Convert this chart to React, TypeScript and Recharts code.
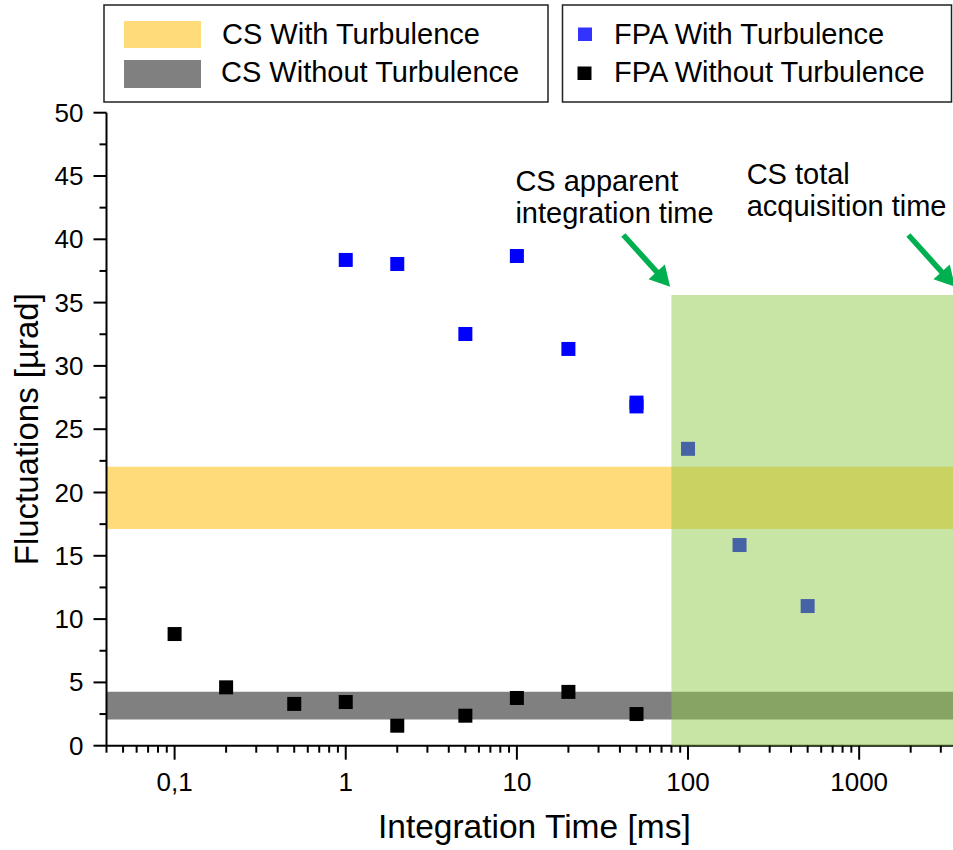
import React from 'react';
import {
  ScatterChart, Scatter, XAxis, YAxis, ReferenceArea, ReferenceLine, ReferenceDot,
} from 'recharts';

const FONT = "'Liberation Sans', Arial, Helvetica, sans-serif";

// ---- data ----
const blueX = [1, 2, 5, 10, 20, 50, 50, 100, 200, 500];
const blueY = [38.37, 38.05, 32.52, 38.68, 31.34, 27.1, 26.8, 23.45, 15.85, 11.03];
const blackX = [0.1, 0.2, 0.5, 1, 2, 5, 10, 20, 50];
const blackY = [8.82, 4.61, 3.3, 3.45, 1.58, 2.37, 3.77, 4.25, 2.5];

const csWith = [17.12, 22.04];
const csWithout = [2.06, 4.27];
const greenArea = { x1: 80, x2: 4000, y1: 0, y2: 35.6 };

const xDomain = [0.04, 4000];
const yDomain = [0, 50];
const xMajor = [0.1, 1, 10, 100, 1000];
const xMajorLabels = ['0,1', '1', '10', '100', '1000'];
const xMinor = [
  0.04, 0.05, 0.06, 0.07, 0.08, 0.09,
  0.2, 0.3, 0.4, 0.5, 0.6, 0.7, 0.8, 0.9,
  2, 3, 4, 5, 6, 7, 8, 9,
  20, 30, 40, 50, 60, 70, 80, 90,
  200, 300, 400, 500, 600, 700, 800, 900,
  2000, 3000, 4000,
];
const yMajor = [0, 5, 10, 15, 20, 25, 30, 35, 40, 45, 50];
const yMinor = [2.5, 7.5, 12.5, 17.5, 22.5, 27.5, 32.5, 37.5, 42.5, 47.5];

const annotations = [
  { x: 9.8, y: 43.8, lines: ['CS apparent', 'integration time'] },
  { x: 220, y: 44.4, lines: ['CS total', 'acquisition time'] },
];
const arrows = [
  { from: { x: 41.9, y: 40.34 }, to: { x: 78.6, y: 36.26 } },
  { from: { x: 1939, y: 40.34 }, to: { x: 3632, y: 36.26 } },
];

const blueData = blueX.map((x, i) => ({ x, y: blueY[i] }));
const blackData = blackX.map((x, i) => ({ x, y: blackY[i] }));
const xTicks = [...xMajor, ...xMinor].sort((a, b) => a - b);
const yTicks = [...yMajor, ...yMinor].sort((a, b) => a - b);

const GREEN = '#00B050';

const BottomTick = (p: any) => {
  const { x, y, payload } = p;
  const idx = xMajor.indexOf(payload.value);
  const major = idx >= 0;
  return (
    <g>
      <line x1={x} x2={x} y1={y} y2={y + (major ? 14 : 7)} stroke="#000" strokeWidth={2} />
      {major && (
        <text x={x} y={y + 45} textAnchor="middle" fontSize={26} fontFamily={FONT} fill="#000">
          {xMajorLabels[idx]}
        </text>
      )}
    </g>
  );
};

const TopTick = (p: any) => {
  const { x, y, payload } = p;
  const major = xMajor.indexOf(payload.value) >= 0;
  return <line x1={x} x2={x} y1={y} y2={y + (major ? 13 : 7)} stroke="#000" strokeWidth={2} />;
};

const LeftTick = (p: any) => {
  const { x, y, payload } = p;
  const major = yMajor.indexOf(payload.value) >= 0;
  return (
    <g>
      <line x1={x - (major ? 13 : 7)} x2={x} y1={y} y2={y} stroke="#000" strokeWidth={2} />
      {major && (
        <text x={x - 23} y={y + 9} textAnchor="end" fontSize={26} fontFamily={FONT} fill="#000">
          {payload.value}
        </text>
      )}
    </g>
  );
};

const RightTick = (p: any) => {
  const { x, y, payload } = p;
  const major = yMajor.indexOf(payload.value) >= 0;
  return <line x1={x - (major ? 14 : 7)} x2={x} y1={y} y2={y} stroke="#000" strokeWidth={2} />;
};

const Square = (color: string) => (p: any) => {
  const { cx, cy } = p;
  if (cx == null || cy == null) return <g />;
  return <rect x={cx - 7} y={cy - 7} width={14} height={14} fill={color} />;
};

const ArrowShape = (p: any) => {
  const { x1, y1, x2, y2 } = p;
  if ([x1, y1, x2, y2].some((v) => v == null || isNaN(v))) return <g />;
  const dx = x2 - x1;
  const dy = y2 - y1;
  const len = Math.sqrt(dx * dx + dy * dy);
  const ux = dx / len;
  const uy = dy / len;
  const hl = 20;
  const hw = 11;
  const bx = x2 - ux * hl;
  const by = y2 - uy * hl;
  const pts = `${x2},${y2} ${bx - uy * hw},${by + ux * hw} ${bx + uy * hw},${by - ux * hw}`;
  return (
    <g>
      <line x1={x1} y1={y1} x2={bx + ux * 2} y2={by + uy * 2} stroke={GREEN} strokeWidth={5.5} />
      <polygon points={pts} fill={GREEN} />
    </g>
  );
};

const AnnotationShape = (lines: string[]) => (p: any) => {
  const { cx, cy } = p;
  if (cx == null || cy == null) return <g />;
  return (
    <text x={cx} y={cy} fontSize={29} fontFamily={FONT} fill="#000">
      {lines.map((l, i) => (
        <tspan key={i} x={cx} y={cy + i * 32}>{l}</tspan>
      ))}
    </text>
  );
};

const XLabel = (p: any) => {
  const vb = p.viewBox || {};
  return (
    <text x={vb.x + vb.width / 2} y={vb.y + 92} textAnchor="middle" fontSize={33.5} fontFamily={FONT} fill="#000">
      Integration Time [ms]
    </text>
  );
};

const YLabel = (p: any) => {
  const vb = p.viewBox || {};
  const x = vb.x + 12;
  const y = vb.y + vb.height / 2;
  return (
    <text x={x} y={y} transform={`rotate(-90, ${x}, ${y})`} textAnchor="middle" fontSize={33} fontFamily={FONT} fill="#000">
      Fluctuations [µrad]
    </text>
  );
};

const LegendOverlay = () => (
  <svg width={953} height={850} style={{ position: 'absolute', left: 0, top: 0, pointerEvents: 'none' }}>
    <rect x={104} y={5} width={444} height={97} fill="#fff" stroke="#222" strokeWidth={1.5} />
    <rect x={124} y={21} width={77} height={27} fill="#FFDB7A" />
    <rect x={124} y={60} width={77} height={28} fill="#808080" />
    <text x={222} y={44} fontSize={29} fontFamily={FONT} fill="#000">CS With Turbulence</text>
    <text x={221} y={82} fontSize={29} fontFamily={FONT} fill="#000">CS Without Turbulence</text>

    <rect x={562.5} y={5} width={389} height={97} fill="#fff" stroke="#222" strokeWidth={1.5} />
    <rect x={578} y={27.5} width={14} height={13.5} fill="#3333ff" />
    <rect x={577.5} y={66.5} width={14} height={13.5} fill="#000" />
    <text x={614} y={44} fontSize={29} fontFamily={FONT} fill="#000">FPA With Turbulence</text>
    <text x={614} y={82} fontSize={29} fontFamily={FONT} fill="#000">FPA Without Turbulence</text>
  </svg>
);

export default function App() {
  return (
    <div style={{ position: 'absolute', left: 0, top: 0, width: 953, height: 850, overflow: 'hidden', background: '#fff' }}>
      <ScatterChart
        width={1000}
        height={850}
        margin={{ top: 112.7, right: 37.8, bottom: 44.3, left: 26.5 }}
      >
        <XAxis
          xAxisId="b"
          dataKey="x"
          type="number"
          scale="log"
          domain={xDomain}
          allowDataOverflow
          ticks={xTicks}
          interval={0}
          tick={BottomTick}
          tickLine={false}
          tickSize={0}
          tickMargin={0}
          axisLine={{ stroke: '#000', strokeWidth: 2 }}
          height={60}
          label={<XLabel />}
        />
        <XAxis
          xAxisId="t"
          orientation="top"
          dataKey="x"
          type="number"
          scale="log"
          domain={xDomain}
          allowDataOverflow
          ticks={xTicks}
          interval={0}
          tick={TopTick}
          tickLine={false}
          tickSize={0}
          tickMargin={0}
          axisLine={{ stroke: '#000', strokeWidth: 2 }}
          height={0}
        />
        <YAxis
          yAxisId="l"
          dataKey="y"
          type="number"
          domain={yDomain}
          allowDataOverflow
          ticks={yTicks}
          interval={0}
          tick={LeftTick}
          tickLine={false}
          tickSize={0}
          tickMargin={0}
          axisLine={{ stroke: '#000', strokeWidth: 2 }}
          width={80}
          label={<YLabel />}
        />
        <YAxis
          yAxisId="r"
          orientation="right"
          type="number"
          domain={yDomain}
          allowDataOverflow
          ticks={yTicks}
          interval={0}
          tick={RightTick}
          tickLine={false}
          tickSize={0}
          tickMargin={0}
          axisLine={{ stroke: '#000', strokeWidth: 2 }}
          width={0}
        />

        <ReferenceArea
          xAxisId="b" yAxisId="l"
          x1={xDomain[0]} x2={xDomain[1]} y1={csWith[0]} y2={csWith[1]}
          fill="#FFDB7A" fillOpacity={1} stroke="none"
        />
        <ReferenceArea
          xAxisId="b" yAxisId="l"
          x1={xDomain[0]} x2={xDomain[1]} y1={csWithout[0]} y2={csWithout[1]}
          fill="#808080" fillOpacity={1} stroke="none"
        />

        <Scatter
          xAxisId="b" yAxisId="l"
          data={blueData}
          fill="#0000ff"
          shape={Square('#0000ff')}
          isAnimationActive={false}
        />
        <Scatter
          xAxisId="b" yAxisId="l"
          data={blackData}
          fill="#000"
          shape={Square('#000000')}
          isAnimationActive={false}
        />

        <ReferenceArea
          xAxisId="b" yAxisId="l"
          x1={greenArea.x1} x2={greenArea.x2} y1={greenArea.y1} y2={greenArea.y2}
          fill="rgb(143,202,73)" fillOpacity={0.49} stroke="none"
          {...({ zIndex: 700 } as any)}
        />

        {arrows.map((a, i) => (
          <ReferenceLine
            key={'arr' + i}
            xAxisId="b" yAxisId="l"
            segment={[a.from, a.to]}
            ifOverflow="visible"
            shape={ArrowShape}
            {...({ zIndex: 800 } as any)}
          />
        ))}
        {annotations.map((a, i) => (
          <ReferenceDot
            key={'ann' + i}
            xAxisId="b" yAxisId="l"
            x={a.x} y={a.y} r={0}
            ifOverflow="visible"
            shape={AnnotationShape(a.lines)}
            {...({ zIndex: 800 } as any)}
          />
        ))}
      </ScatterChart>
      <LegendOverlay />
    </div>
  );
}
